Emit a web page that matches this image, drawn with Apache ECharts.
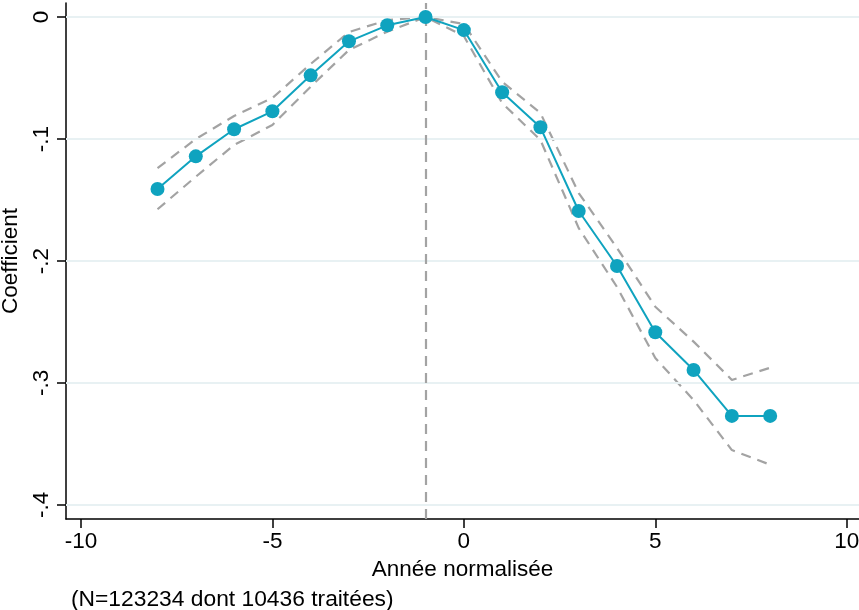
<!DOCTYPE html>
<html>
<head>
<meta charset="utf-8">
<script src="https://cdn.jsdelivr.net/npm/echarts@6/dist/echarts.min.js"></script>
<style>html,body{margin:0;padding:0;background:#fff}#c{width:859px;height:610px}</style>
</head>
<body>
<div id="c"></div>
<script>
const years = [-8,-7,-6,-5,-4,-3,-2,-1,0,1,2,3,4,5,6,7,8];
const coef  = [-0.141,-0.1142,-0.092,-0.0773,-0.0478,-0.0199,-0.0068,0,-0.0107,-0.0617,-0.0904,-0.159,-0.2041,-0.2584,-0.2893,-0.327,-0.327];
const upper = [-0.1238,-0.100,-0.0811,-0.0664,-0.0385,-0.0123,-0.0025,0,-0.0057,-0.053,-0.0787,-0.1443,-0.1893,-0.2375,-0.2661,-0.2975,-0.2875];
const lower = [-0.1576,-0.1309,-0.1049,-0.0885,-0.0571,-0.027,-0.012,0,-0.0156,-0.0705,-0.1008,-0.173,-0.2213,-0.2795,-0.314,-0.355,-0.367];
const xTicks = [-10,-5,0,5,10];
const yTicks = [-0.4,-0.3,-0.2,-0.1,0];
const refYear = -1;
const xTitle = 'Année normalisée';
const yTitle = 'Coefficient';
const note = '(N=123234 dont 10436 traitées)';

const pairs = arr => years.map((x,i)=>[x,arr[i]]);
const fmtY = v => { if (Math.abs(v) < 1e-9) return '0'; const s = v.toFixed(1); return s.replace('0.', '.'); };
const FONT = 'Liberation Sans, Arial, Helvetica, sans-serif';
const BLUE = '#0fa3bf';
const GRAY = '#a3a3a3';

const chart = echarts.init(document.getElementById('c'), null, {renderer:'canvas'});
chart.setOption({
  animation:false,
  backgroundColor:'#fff',
  title:{ text: note, left: 66, top: 583, textStyle:{fontFamily:FONT, fontSize:22.8, fontWeight:'normal', color:'#000'} },
  grid:{ left:66, right:0, top:3, bottom:91, containLabel:false, outerBoundsMode:'none' },
  xAxis:{
    type:'value', min:-10.39, max:10.32,
    name:xTitle, nameLocation:'middle', nameGap:39, nameMoveOverlap:false,
    nameTextStyle:{fontFamily:FONT, fontSize:22.5, color:'#000'},
    axisLine:{show:true, onZero:false, lineStyle:{color:'#000', width:1.5}},
    axisTick:{show:true, length:9, lineStyle:{color:'#000', width:1.5}, customValues:xTicks},
    axisLabel:{fontFamily:FONT, fontSize:22.5, color:'#000', margin:11, customValues:xTicks, formatter: v => String(v)},
    splitLine:{show:false}
  },
  yAxis:{
    type:'value', min:-0.4115, max:0.0115,
    name:yTitle, nameLocation:'middle', nameGap:44, nameRotate:90, nameMoveOverlap:false,
    nameTextStyle:{fontFamily:FONT, fontSize:22.5, color:'#000'},
    axisLine:{show:true, onZero:false, lineStyle:{color:'#000', width:1.5}},
    axisTick:{show:true, length:9, lineStyle:{color:'#000', width:1.5}, customValues:yTicks},
    axisLabel:{fontFamily:FONT, fontSize:22.5, color:'#000', rotate:90, margin:13, customValues:yTicks, formatter: fmtY},
    splitLine:{show:false}
  },
  series:[
    { type:'line', name:'grid', data:[], silent:true,
      markLine:{ silent:true, symbol:['none','none'], label:{show:false},
        lineStyle:{color:'#e8f1f3', width:2, type:'solid'},
        data: yTicks.map(v=>({yAxis:v})) }, z:1 },
    { type:'line', name:'upper', data:pairs(upper), showSymbol:false, symbol:'none',
      lineStyle:{color:GRAY, width:2.2, type:[10,7]}, z:2 },
    { type:'line', name:'lower', data:pairs(lower), showSymbol:false, symbol:'none',
      lineStyle:{color:GRAY, width:2.2, type:[10,7]}, z:2,
      markLine:{ silent:true, symbol:['none','none'], label:{show:false},
        lineStyle:{color:GRAY, width:2.2, type:[10,7]},
        data:[{xAxis:refYear}] } },
    { type:'line', name:'coef', data:pairs(coef), symbol:'circle', symbolSize:14,
      itemStyle:{color:BLUE}, lineStyle:{color:BLUE, width:2}, z:5 }
  ]
});
</script>
</body>
</html>
